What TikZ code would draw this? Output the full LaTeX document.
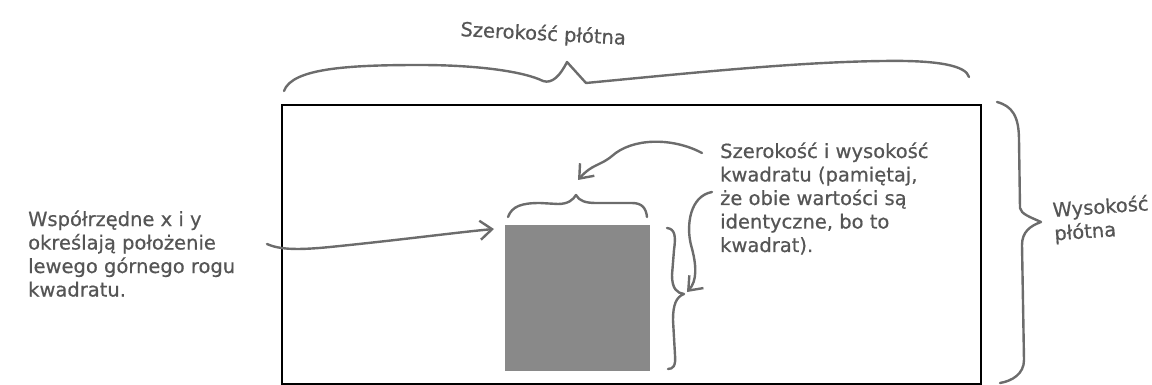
\documentclass[tikz,border=0pt]{standalone}
\usepackage{fontspec}
\setmainfont[FakeBold=0.6]{DejaVu Sans}
\usetikzlibrary{arrows.meta}
\definecolor{ink}{HTML}{555555}
\definecolor{linec}{HTML}{6C6C6C}
\definecolor{sqc}{HTML}{898989}
\newcommand\txtblock[1]{\begin{tabular}[t]{@{}l@{}}#1\end{tabular}}
\begin{document}
\begin{tikzpicture}[x=1pt,y=-1pt,
  hand/.style={draw=linec, line width=2.4pt, line cap=round, line join=round},
  barb/.style={hand, -{Straight Barb[length=12pt,width=19pt,line width=2.4pt]}},
  lbl/.style={text=ink, font=\fontsize{19.5}{23.5}\selectfont, inner sep=0pt, anchor=base west}
]
\useasboundingbox (0,0) rectangle (1152,385);

% canvas and square
\node[draw=black, line width=2.4pt, minimum width=699pt, minimum height=279pt,
      anchor=north west, inner sep=0pt] (canvas) at (281,104) {};
\node[fill=sqc, minimum width=145pt, minimum height=146pt,
      anchor=north west, inner sep=0pt] (square) at (505,225) {};

% texts
\node[lbl, rotate=-3] (title) at (460,36) {Szerokość płótna};
\node[lbl, rotate=4] (hlabel) at (1053,217) {\txtblock{Wysokość\\płótna}};
\node[lbl] (left) at (28,226) {\txtblock{Współrzędne x i y\\określają położenie\\lewego górnego rogu\\kwadratu.}};
\node[lbl] (right) at (720,158) {\txtblock{Szerokość i wysokość\\kwadratu (pamiętaj,\\że obie wartości są\\identyczne, bo to\\kwadrat).}};

% top big brace
\draw[hand] (284,91) .. controls (292,68) and (350,65) .. (420,65)
  .. controls (480,65) and (525,72) .. (543,81)
  .. controls (552,84) and (560,76) .. (567,62)
  -- (586,83)
  .. controls (700,72) and (800,62) .. (883,61)
  .. controls (940,60) and (966,66) .. (969,77);

% right big brace
\draw[hand] (997,102) .. controls (1012,106) and (1019,116) .. (1019,140)
  -- (1020,208) .. controls (1021,214) and (1030,217) .. (1041,222)
  .. controls (1030,226) and (1022,232) .. (1022,245)
  -- (1024,360) .. controls (1024,374) and (1012,381) .. (1000,383);

% small top brace
\draw[hand] (508,217) .. controls (512,206) and (522,203) .. (540,203)
  -- (558,204) .. controls (568,204) and (573,200) .. (576,195)
  .. controls (579,201) and (586,203) .. (596,203)
  -- (632,203) .. controls (642,203) and (646,208) .. (647,217);

% small right brace
\draw[hand] (667,228) .. controls (675,229) and (676,236) .. (674,250)
  -- (672,275) .. controls (672,289) and (677,293) .. (684,294)
  .. controls (676,297) and (673,305) .. (673,320)
  -- (675,355) .. controls (676,366) and (673,369) .. (668,369);

% arrows
\coordinate (a1s) at (702,153);
\coordinate (a1e) at (578,180);
\coordinate (a2s) at (712,192);
\coordinate (a2e) at (687,292);
\coordinate (a3s) at (267,244);
\coordinate (a3e) at (494,229);
\draw[barb] (a1s) .. controls (672,137) and (632,138) .. (612,156)
  .. controls (600,166) and (592,164) .. (a1e);
\draw[barb] (a2s) .. controls (690,196) and (686,225) .. (691,245)
  .. controls (697,266) and (697,281) .. (a2e);
\draw[barb] (a3s) .. controls (280,250) and (300,250) .. (330,247)
  .. controls (400,240) and (460,232) .. (a3e);
\end{tikzpicture}
\end{document}
